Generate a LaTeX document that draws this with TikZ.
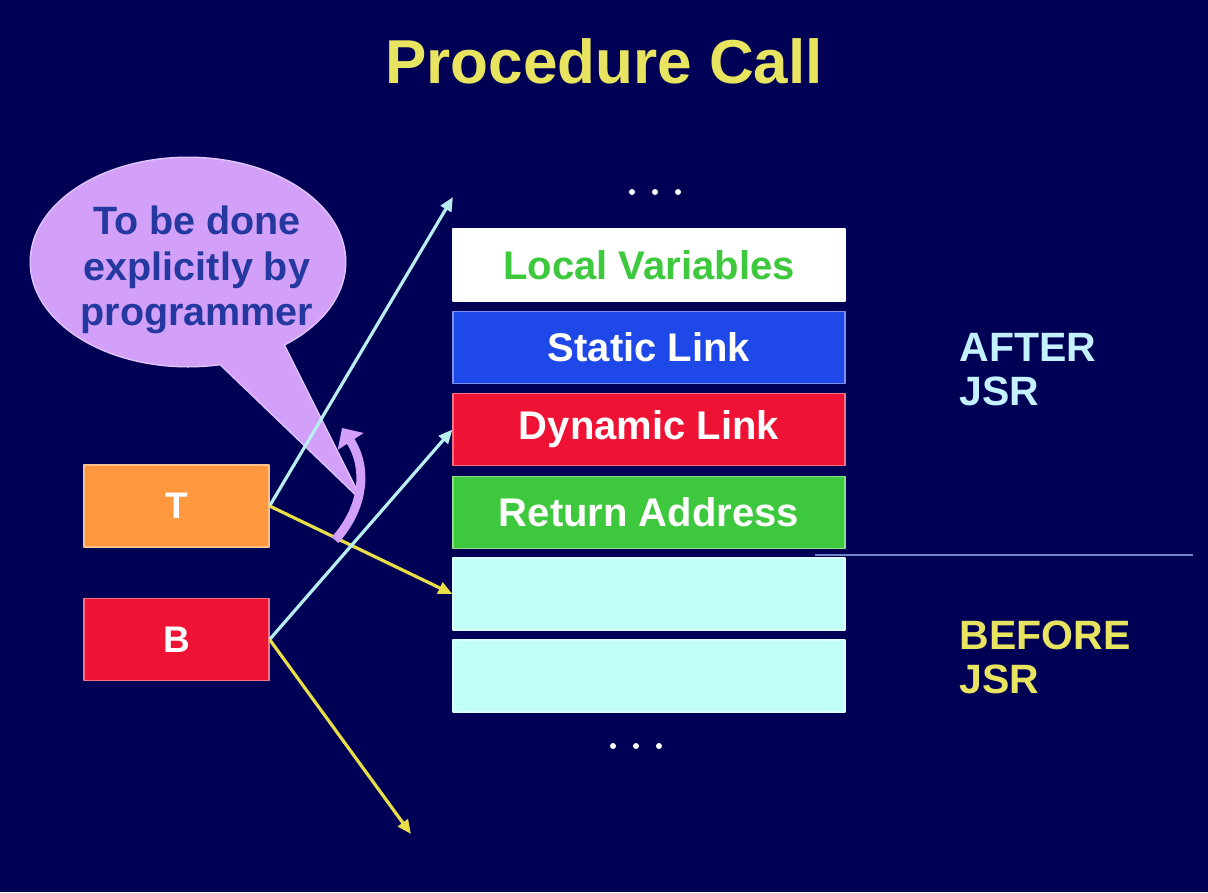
\documentclass[tikz,border=0pt]{standalone}
\usepackage{fontspec}
\setmainfont{Liberation Sans}
\usetikzlibrary{arrows.meta}

\definecolor{bgnavy}{RGB}{0,0,84}
\definecolor{titleyellow}{RGB}{232,228,96}
\definecolor{framecyan}{RGB}{192,255,250}
\definecolor{arrowcyan}{RGB}{185,238,240}
\definecolor{arrowyellow}{RGB}{232,222,72}
\definecolor{staticblue}{RGB}{30,72,232}
\definecolor{dynred}{RGB}{238,18,52}
\definecolor{retgreen}{RGB}{62,200,62}
\definecolor{torange}{RGB}{255,152,62}
\definecolor{bubblefill}{RGB}{210,160,248}
\definecolor{bubbleedge}{RGB}{225,195,255}
\definecolor{bubbletext}{RGB}{36,56,160}
\definecolor{afterlabel}{RGB}{196,240,255}
\definecolor{splitline}{RGB}{112,132,200}

\begin{document}
\begin{tikzpicture}[x=1pt, y=-1pt, line join=round,
  slot/.style={minimum width=392pt, minimum height=72pt, inner sep=0pt,
    line width=1.2pt, text=white, font=\bfseries\fontsize{40}{44}\selectfont},
  reg/.style={minimum width=185pt, minimum height=82pt, inner sep=0pt,
    line width=1.2pt, text=white, font=\bfseries\fontsize{37}{40}\selectfont},
  side/.style={anchor=west, align=left, font=\bfseries\fontsize{41}{44}\selectfont},
  ptr/.style={line width=3.2pt, -{Triangle[length=14pt, width=12pt]}}]

  %% ════ 背景 ════
  \fill[bgnavy] (0,0) rectangle (1208,892);

  %% ════ 标题 ════
  \node[text=titleyellow, font=\bfseries\fontsize{62}{66}\selectfont] (title) at (604,61) {Procedure Call};

  %% ════ 气泡 ════
  \draw[bubbleedge, line width=3pt] (188,262) ellipse [x radius=157, y radius=104];
  \draw[bubbleedge, line width=3pt] (206,350) -- (360,498) -- (281,340);
  \fill[bubblefill] (188,262) ellipse [x radius=157, y radius=104];
  \fill[bubblefill] (206,350) -- (360,498) -- (281,340) -- cycle;
  \node[text=bubbletext, align=center, font=\bfseries\fontsize{39.5}{45.5}\selectfont] (note) at (197,270)
    {To be done\\explicitly by\\programmer};

  %% ════ 栈帧 ════
  \node[slot, fill=white, draw=white, text=retgreen] (locals) at (649,265) {Local Variables};
  \node[slot, fill=staticblue, draw=staticblue!60!white] (static) at (649,347.5) {Static Link};
  \node[slot, fill=dynred, draw=dynred!60!white] (dynamic) at (649,429.5) {Dynamic Link};
  \node[slot, fill=retgreen, draw=retgreen!60!white] (retaddr) at (649,512.5) {Return Address};
  \node[slot, fill=framecyan, draw=framecyan!60!white] (old1) at (649,594) {};
  \node[slot, fill=framecyan, draw=framecyan!60!white] (old2) at (649,676) {};

  % 省略号
  \fill[white] (632,192) circle (3) (655,192) circle (3) (678,192) circle (3);
  \fill[white] (613,746) circle (3) (636,746) circle (3) (659,746) circle (3);

  %% ════ 分界线与右侧标注 ════
  \draw[splitline, line width=2pt] (815,555) -- (1193,555);
  \node[side, text=afterlabel] (after) at (956,370) {AFTER\\JSR};
  \node[side, text=titleyellow] (before) at (956,657) {BEFORE\\JSR};

  %% ════ 寄存器 ════
  \node[reg, fill=torange, draw=torange!60!white] (T) at (176.5,506) {T};
  \node[reg, fill=dynred, draw=dynred!60!white] (B) at (176.5,639.5) {B};

  %% ════ 指针 ════
  \coordinate (newtop) at (453,197);
  \coordinate (oldlow) at (411,834);
  \draw[ptr, arrowcyan] (T.east) -- (newtop);
  \draw[ptr, arrowyellow] (T.east) -- (old1.west);
  \draw[ptr, arrowcyan] (B.east) -- (dynamic.west);
  \draw[ptr, arrowyellow] (B.east) -- (oldlow);

  % 紫色弯箭头
  \draw[bubblefill, line width=9pt, -{Triangle[length=16pt, width=30pt]}]
    (335,540) .. controls (364,508) and (368,468) .. (342,428);

  \pgfresetboundingbox
  \path[use as bounding box] (0,0) rectangle (1208,892);
\end{tikzpicture}
\end{document}
